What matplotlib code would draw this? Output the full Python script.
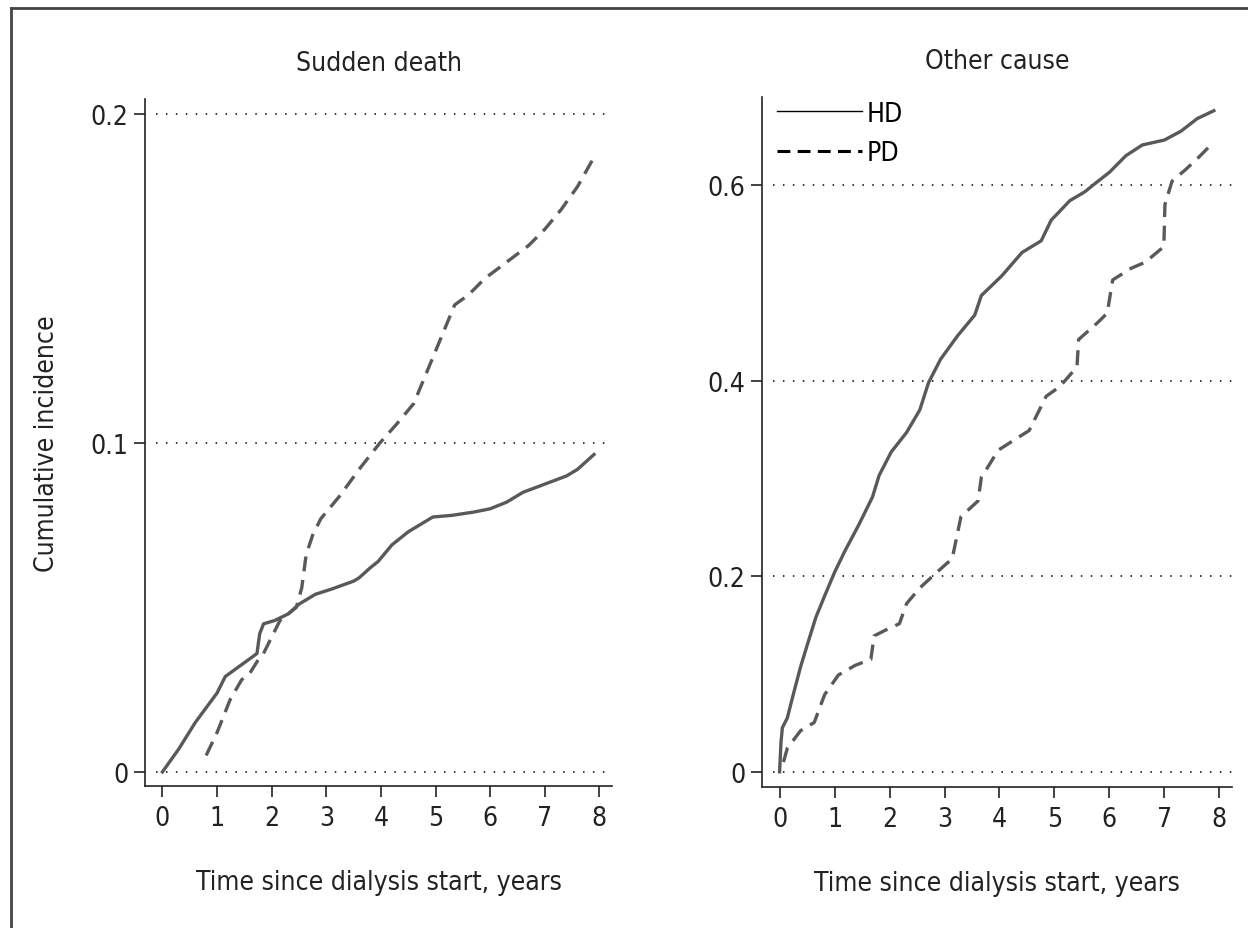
import matplotlib
matplotlib.use("Agg")
import matplotlib.pyplot as plt
from matplotlib import font_manager as fm
from matplotlib.lines import Line2D

# ---------------- data ----------------
sd_hd_t = [0, 0.3, 0.6, 1.0, 1.15, 1.4, 1.65, 1.73, 1.78, 1.85, 2.05, 2.3, 2.5, 2.8, 3.1,
           3.5, 3.6, 3.8, 3.95, 4.2, 4.5, 4.7, 4.95, 5.3, 5.7, 6.0, 6.3, 6.6, 7.0, 7.4, 7.6, 7.9]
sd_hd_v = [0, 0.007, 0.015, 0.024, 0.029, 0.032, 0.035, 0.036, 0.042, 0.045, 0.046, 0.048,
           0.051, 0.054, 0.0556, 0.058, 0.059, 0.062, 0.064, 0.069, 0.073, 0.075, 0.0775,
           0.078, 0.079, 0.080, 0.082, 0.085, 0.0875, 0.090, 0.092, 0.0965]

sd_pd_t = [0.8, 1.0, 1.24, 1.45, 1.6, 1.75, 1.85, 1.97, 2.15, 2.45, 2.55, 2.63, 2.75, 2.9,
           3.25, 3.6, 3.98, 4.3, 4.6, 4.8, 5.0, 5.2, 5.35, 5.6, 5.9, 6.3, 6.7, 7.0, 7.3, 7.6, 7.87]
sd_pd_v = [0.005, 0.012, 0.022, 0.028, 0.030, 0.034, 0.036, 0.040, 0.046, 0.050, 0.056,
           0.066, 0.072, 0.077, 0.084, 0.092, 0.100, 0.106, 0.112, 0.120, 0.128, 0.136,
           0.142, 0.145, 0.150, 0.155, 0.160, 0.165, 0.171, 0.178, 0.186]

oc_hd_t = [0, 0.025, 0.05, 0.14, 0.23, 0.38, 0.51, 0.66, 0.82, 1.0, 1.19, 1.44, 1.69, 1.81,
           2.03, 2.31, 2.55, 2.71, 2.93, 3.24, 3.55, 3.67, 4.04, 4.41, 4.76, 4.94, 5.28,
           5.55, 5.75, 6.0, 6.3, 6.6, 7.0, 7.3, 7.6, 7.9]
oc_hd_v = [0, 0.03, 0.045, 0.055, 0.075, 0.107, 0.131, 0.158, 0.180, 0.204, 0.226, 0.2525,
           0.281, 0.303, 0.327, 0.347, 0.370, 0.398, 0.422, 0.446, 0.467, 0.487, 0.507,
           0.531, 0.543, 0.564, 0.584, 0.593, 0.602, 0.613, 0.630, 0.641, 0.646, 0.655,
           0.668, 0.676]

oc_pd_t = [0.07, 0.14, 0.38, 0.63, 0.82, 1.07, 1.38, 1.66, 1.72, 1.93, 2.18, 2.31, 2.55,
           2.86, 3.14, 3.30, 3.61, 3.67, 3.98, 4.54, 4.69, 4.85, 5.10, 5.41, 5.44, 5.78,
           5.96, 6.06, 6.40, 6.65, 6.99, 7.01, 7.14, 7.39, 7.6, 7.9]
oc_pd_v = [0.01, 0.024, 0.042, 0.0505, 0.079, 0.099, 0.109, 0.115, 0.139, 0.145, 0.1515,
           0.172, 0.188, 0.204, 0.218, 0.261, 0.277, 0.301, 0.329, 0.349, 0.366, 0.384,
           0.394, 0.414, 0.442, 0.459, 0.469, 0.503, 0.515, 0.521, 0.537, 0.580, 0.604,
           0.616, 0.627, 0.644]

x_ticks = [0, 1, 2, 3, 4, 5, 6, 7, 8]
sd_yticks = [0, 0.1, 0.2]
sd_ylabels = ["0", "0.1", "0.2"]
oc_yticks = [0, 0.2, 0.4, 0.6]
oc_ylabels = ["0", "0.2", "0.4", "0.6"]
titles = ["Sudden death", "Other cause"]
xlabel = "Time since dialysis start, years"
ylabel = "Cumulative incidence"
legend_labels = ["HD", "PD"]

# ---------------- font ----------------
FS = 19


def pick_font():
    best = None
    for f in fm.fontManager.ttflist:
        n = f.name
        st = str(f.stretch)
        narrow = ("Condensed" in n or "Narrow" in n or
                  st in ("condensed", "semi-condensed", "extra-condensed"))
        if not narrow or f.style != "normal":
            continue
        w = f.weight
        if isinstance(w, str):
            w = fm.weight_dict.get(w, 400)
        if w >= 600:
            continue
        score = abs(w - 400)
        if best is None or score < best[0]:
            best = (score, f.fname)
    if best is not None:
        return fm.FontProperties(fname=best[1], size=FS)
    return fm.FontProperties(family=["Roboto", "DejaVu Sans"], size=FS - 1)


fp = pick_font()
TXT = "#222222"

W, H = 1248, 929
fig = plt.figure(figsize=(W / 100, H / 100), dpi=100)


def add_ax(x0, x1, y0, y1):
    return fig.add_axes([x0 / W, 1 - y1 / H, (x1 - x0) / W, (y1 - y0) / H])


axL = add_ax(145, 612, 100, 787)
axR = add_ax(762, 1232, 98, 788)

curve_col = "#595959"
LW = 2.4
DASH = (4.5, 2.6)

panels = [
    (axL, sd_hd_t, sd_hd_v, sd_pd_t, sd_pd_v, sd_yticks, sd_ylabels, (-0.0043, 0.2046)),
    (axR, oc_hd_t, oc_hd_v, oc_pd_t, oc_pd_v, oc_yticks, oc_ylabels, (-0.0155, 0.69)),
]

for i, (ax, ht, hv, pt, pv, yt, yl, ylim) in enumerate(panels):
    ax.set_xlim(-0.32, 8.23)
    ax.set_ylim(*ylim)
    for y in yt:
        ax.hlines(y, -0.12, 8.23, colors="black", linewidth=1.1,
                  linestyles=(0, (1, 5.5)), zorder=1)
    ax.plot(ht, hv, color=curve_col, lw=LW, solid_joinstyle="round", zorder=3)
    ax.plot(pt, pv, color=curve_col, lw=LW, linestyle=(0, DASH), zorder=3)
    ax.set_xticks(x_ticks)
    ax.set_xticklabels([str(t) for t in x_ticks], fontproperties=fp, color=TXT)
    ax.set_yticks(yt)
    ax.set_yticklabels(yl, fontproperties=fp, color=TXT)
    for s in ["top", "right"]:
        ax.spines[s].set_visible(False)
    for s in ["left", "bottom"]:
        ax.spines[s].set_linewidth(1.2)
        ax.spines[s].set_color("#222222")
    ax.tick_params(axis="both", direction="out", width=1.2, colors="#222222")
    ax.tick_params(axis="y", length=8, pad=4)
    ax.tick_params(axis="x", length=8, pad=6)
    ax.set_title(titles[i], fontproperties=fp, color=TXT, pad=21)
    ax.set_xlabel(xlabel, fontproperties=fp, color=TXT, labelpad=27)

axL.set_ylabel(ylabel, fontproperties=fp, color=TXT, labelpad=22)

handles = [Line2D([], [], color="black", lw=1.0),
           Line2D([], [], color="black", lw=2.2, linestyle=(0, (4.2, 2.4)))]
axR.legend(handles, legend_labels, loc="upper left", bbox_to_anchor=(0.01, 1.01),
           frameon=False, prop=fp, handlelength=3.2, handletextpad=0.2,
           labelspacing=0.5, borderaxespad=0.0)

# outer frame (top and left borders)
fig.add_artist(Line2D([11 / W, 1], [1 - 9 / H, 1 - 9 / H], color="#444444", lw=2.0))
fig.add_artist(Line2D([11 / W, 11 / W], [0, 1 - 9 / H], color="#444444", lw=2.0))

fig.savefig("out.png", dpi=100, facecolor="white")
